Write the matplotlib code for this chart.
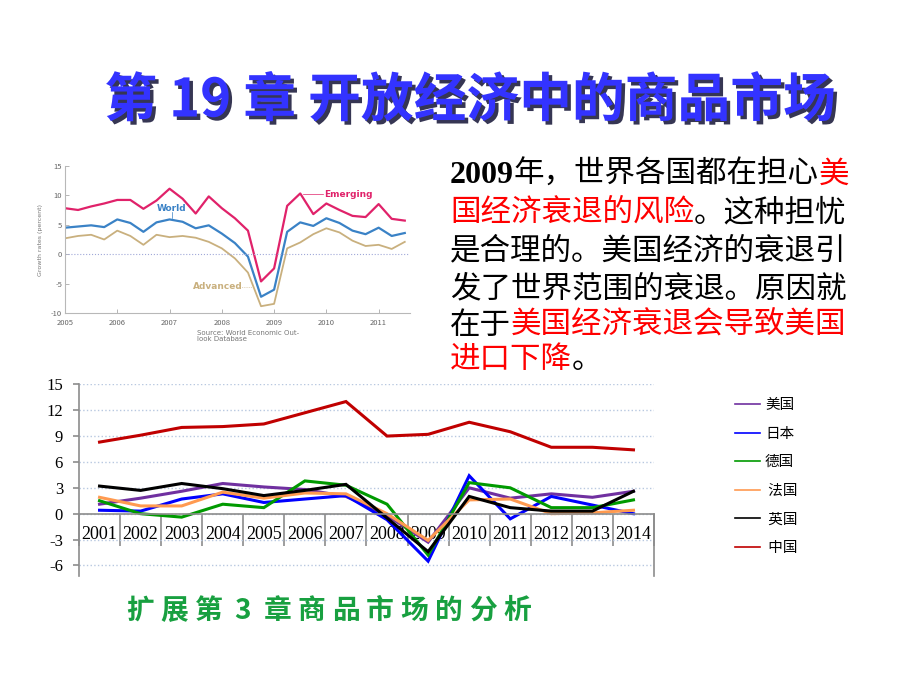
import numpy as np
import matplotlib
matplotlib.use('Agg')
from matplotlib import pyplot as plt
from matplotlib import patheffects as pe
from matplotlib.lines import Line2D
from matplotlib.ticker import FixedLocator, NullFormatter

plt.rcParams['font.family'] = ['Noto Sans CJK SC', 'DejaVu Sans']
plt.rcParams['axes.unicode_minus'] = False

# ---- main chart data: GDP growth, %
years = ['2001', '2002', '2003', '2004', '2005', '2006', '2007',
         '2008', '2009', '2010', '2011', '2012', '2013', '2014']
usa     = [1.1, 1.8, 2.6, 3.5, 3.1, 2.8, 2.0, -0.2, -3.3, 3.0, 1.8, 2.3, 1.9, 2.6]
japan   = [0.4, 0.3, 1.7, 2.3, 1.3, 1.7, 2.1, -0.7, -5.5, 4.4, -0.6, 2.0, 1.0, 0.0]
germany = [1.5, 0.0, -0.4, 1.1, 0.7, 3.8, 3.3, 1.1, -4.8, 3.6, 3.0, 0.7, 0.7, 1.6]
france  = [1.9, 0.9, 0.9, 2.5, 1.8, 2.4, 2.3, 0.0, -3.1, 1.6, 1.7, 0.0, 0.1, 0.4]
uk      = [3.2, 2.7, 3.5, 2.9, 2.1, 2.7, 3.4, -0.5, -4.4, 2.0, 0.7, 0.3, 0.3, 2.6]
china   = [8.3, 9.1, 10.0, 10.1, 10.4, 11.7, 13.0, 9.0, 9.2, 10.6, 9.5, 7.7, 7.7, 7.4]
series_names = ['美国', '日本', '德国', ' 法国', ' 英国', ' 中国']
series_colors = ['#7030A0', '#0000FF', '#009A00', '#FF9A50', '#000000', '#C00000']
y_ticks = [15, 12, 9, 6, 3, 0, -3, -6]

# ---- inset chart data (quarterly growth rates, percent)
quarters = np.arange(2005, 2011.51, 0.25)
emerging = [7.8, 7.5, 8.1, 8.6, 9.2, 9.2, 7.7, 9.1, 11.1, 9.4, 6.9, 9.8, 7.8, 6.1,
            4.0, -4.6, -2.4, 8.2, 10.3, 6.8, 8.6, 7.5, 6.5, 6.3, 8.5, 6.0, 5.7]
world    = [4.5, 4.7, 4.9, 4.6, 5.9, 5.3, 3.8, 5.4, 5.9, 5.5, 4.4, 4.9, 3.5, 1.9,
            -0.4, -7.2, -6.0, 3.8, 5.4, 4.8, 6.1, 5.3, 4.0, 3.4, 4.5, 3.1, 3.6]
advanced = [2.7, 3.1, 3.3, 2.5, 4.0, 3.1, 1.6, 3.3, 2.9, 3.1, 2.8, 2.1, 1.0, -0.7,
            -3.1, -8.8, -8.4, 1.0, 2.0, 3.4, 4.4, 3.7, 2.3, 1.4, 1.6, 0.9, 2.1]
inset_years = [2005, 2006, 2007, 2008, 2009, 2010, 2011]

fig = plt.figure(figsize=(9.2, 6.9), dpi=100)

# overlay in pixel coordinates for slide text
ov = fig.add_axes([0, 0, 1, 1])
ov.set_xlim(0, 920)
ov.set_ylim(690, 0)
ov.axis('off')

# title with shadow
ov.text(470, 101, '第 19 章 开放经济中的商品市场', fontsize=38, fontweight='bold',
        color='#3333FF', ha='center', va='center',
        path_effects=[pe.SimplePatchShadow(offset=(2.5, -2.5), shadow_rgbFace='#202040', alpha=0.9),
                      pe.Normal()])

# paragraph with red highlights
RED = '#FF0000'
para = [
    [('2009', 'k', 'serif'), ('年，世界各国都在担心', 'k', None), ('美', RED, None)],
    [('国经济衰退的风险', RED, None), ('。这种担忧', 'k', None)],
    [('是合理的。美国经济的衰退引', 'k', None)],
    [('发了世界范围的衰退。原因就', 'k', None)],
    [('在于', 'k', None), ('美国经济衰退会导致美国', RED, None)],
    [('进口下降', RED, None), ('。', 'k', None)],
]
line_y = [172, 210, 248, 286, 323, 357]
for segs, y in zip(para, line_y):
    prev = None
    for s, c, fam in segs:
        kw = dict(fontsize=22, color=c)
        if fam == 'serif':
            kw.update(family=['Liberation Serif'], fontweight='bold', fontsize=23)
        if prev is None:
            prev = ov.text(450, y + 18, s, ha='left', va='bottom', **kw)
        else:
            prev = ov.annotate(s, xy=(1, 0), xycoords=prev, ha='left', va='bottom', **kw)

# green subtitle
sub = '扩展第3章商品市场的分析'
for i, ch in enumerate(sub):
    ov.text(140 + i * 34.3, 611, ch, fontsize=20, fontweight='bold', color='#18A040',
            ha='center', va='center')

ov.text(367, 569, '%', fontsize=12, family=['Liberation Serif'], ha='center', va='center')

# ---- inset chart
ax2 = fig.add_axes([65 / 920, 1 - 313.3 / 690, 345 / 920, 147.6 / 690])
ax2.plot(quarters, advanced, color='#C9B07E', lw=1.3)
ax2.plot(quarters, world, color='#3A82C6', lw=1.6)
ax2.plot(quarters, emerging, color='#E0226A', lw=1.6)
ax2.axhline(0, color='#A0A8D8', lw=0.8, ls=':')
ax2.set_xlim(2005, 2011.6)
ax2.set_ylim(-10, 15)
ax2.set_xticks(inset_years)
ax2.set_yticks([-10, -5, 0, 5, 10, 15])
for sp in ['top', 'right']:
    ax2.spines[sp].set_visible(False)
for sp in ['left', 'bottom']:
    ax2.spines[sp].set_color('#B8B8B8')
    ax2.spines[sp].set_linewidth(0.8)
ax2.tick_params(direction='in', length=3, width=0.6, color='#AAAAAA',
                labelsize=5.5, labelcolor='#666666', pad=2)
ax2.tick_params(axis='x', pad=4)
ax2.set_ylabel('Growth rates (percent)', fontsize=4.5, color='#777777', labelpad=6,
               family=['DejaVu Sans'])
ax2.text(2009.96, 10.2, 'Emerging', fontsize=6.5, fontweight='bold', color='#E0226A',
         va='center', family=['DejaVu Sans'])
ax2.plot([2009.55, 2009.93], [10.2, 10.2], color='#E0226A', lw=0.5)
ax2.text(2007.04, 7.8, 'World', fontsize=6.5, fontweight='bold', color='#3A82C6',
         va='center', ha='center', family=['DejaVu Sans'])
ax2.plot([2007.04, 2007.04], [7.2, 6.1], color='#3A82C6', lw=0.5)
ax2.text(2007.45, -5.5, 'Advanced', fontsize=6.5, fontweight='bold', color='#C9B07E',
         va='center', family=['DejaVu Sans'])
ax2.plot([2008.28, 2008.6], [-5.5, -5.5], color='#C9B07E', lw=0.5, ls=':')
ov.text(197, 336, 'Source: World Economic Out-\nlook Database', fontsize=5,
        color='#777777', va='center', family=['DejaVu Sans'], linespacing=1.1)

# ---- main chart
ax = fig.add_axes([79 / 920, 1 - 575.8 / 690, 575 / 920, 191.5 / 690])
x = np.arange(len(years))
for vals, name, col in zip([usa, japan, germany, france, uk, china], series_names, series_colors):
    ax.plot(x, vals, color=col, lw=2.2, label=name, solid_joinstyle='miter')
ax.set_xlim(-0.5, len(years) - 0.5)
ax.set_ylim(-7.2, 15)
ax.set_yticks(y_ticks)
ax.yaxis.grid(True, color='#B8C8E0', ls=':', lw=1)
ax.set_axisbelow(True)
ax.spines['top'].set_visible(False)
ax.spines['bottom'].set_position(('data', 0))
ax.spines['right'].set_bounds(-7.2, 0)
for sp in ['left', 'right', 'bottom']:
    ax.spines[sp].set_color('#8C8C8C')
    ax.spines[sp].set_linewidth(1.2)
ax.xaxis.set_major_locator(FixedLocator(np.arange(len(years) + 1) - 0.5))
ax.xaxis.set_major_formatter(NullFormatter())
ax.xaxis.set_minor_locator(FixedLocator(x))
ax.set_xticklabels(years, minor=True)
ax.tick_params(axis='x', which='major', direction='out', length=23, width=1.2, color='#8C8C8C')
ax.tick_params(axis='x', which='minor', length=0, pad=9, labelsize=13)
ax.tick_params(axis='y', direction='out', length=4.5, width=1.2, color='#8C8C8C',
               labelsize=12, pad=7)
for lab in ax.get_xticklabels(minor=True) + ax.get_yticklabels():
    lab.set_family(['Liberation Serif'])

handles = [Line2D([], [], color=c, lw=1.2) for c in series_colors]
fig.legend(handles, series_names, loc='upper left', bbox_to_anchor=(722 / 920, 1 - 385 / 690),
           frameon=False, fontsize=10.5, handlelength=1.7, handletextpad=0.35,
           labelspacing=1.0)

fig.savefig('out.png', dpi=100)
